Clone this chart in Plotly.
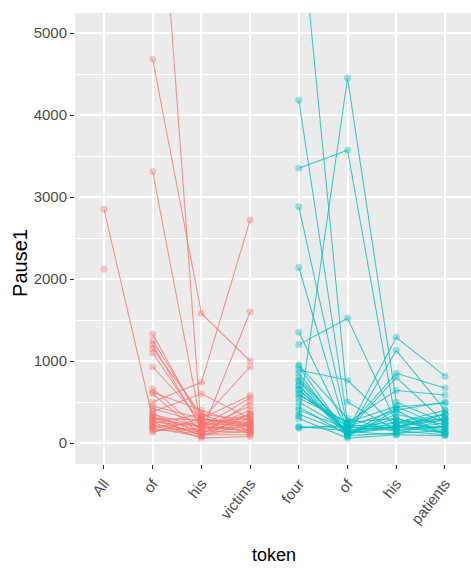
import plotly.graph_objects as go

# Token positions on the x axis (two sentences, 4 tokens each)
tick_labels = ["All", "of", "his", "victims", "four", "of", "his", "patients"]
red_x = [1, 2, 3, 4]
teal_x = [5, 6, 7, 8]

# Sentence 1 (All, of, his, victims) - one row per participant
red_series = [
    [2850, 300, 200, 150],
    [2120, None, None, None],
    [None, 4680, 1580, 1000],
    [None, 8200, 130, 250],
    [None, 3310, 200, 350],
    [None, 500, 740, 2720],
    [None, 350, 120, 1600],
    [None, 1330, 250, 300],
    [None, 1250, 300, 200],
    [None, 1200, 180, 450],
    [None, 1150, 350, 150],
    [None, 1100, 220, 250],
    [None, 930, 280, 930],
    [None, 660, 150, 350],
    [None, 620, 400, 200],
    [None, 600, 100, 500],
    [None, 450, 300, 580],
    [None, 420, 250, 120],
    [None, 380, 600, 300],
    [None, 350, 200, 180],
    [None, 320, 150, 400],
    [None, 300, 280, 250],
    [None, 280, 100, 100],
    [None, 260, 200, 550],
    [None, 240, 350, 280],
    [None, 220, 150, 130],
    [None, 200, 250, 200],
    [None, 180, 80, 350],
    [None, 150, 180, 160],
    [None, 130, 300, 220],
    [None, 250, 60, 80],
    [None, 200, 130, 300],
    [None, 170, 110, 140],
    [None, 310, 90, 230],
]

# Sentence 2 (four, of, his, patients)
teal_series = [
    [6600, 500, 150, 200],
    [4180, 250, 300, 150],
    [3350, 3570, 240, 300],
    [330, 4450, 500, 250],
    [2880, 200, 400, 100],
    [2140, 120, 200, 350],
    [1350, 150, 1290, 815],
    [1200, 1520, 250, 180],
    [935, 100, 1130, 400],
    [890, 765, 200, 300],
    [765, 180, 850, 670],
    [645, 150, 800, 250],
    [585, 250, 640, 585],
    [440, 100, 440, 485],
    [195, 200, 150, 100],
    [180, 220, 180, 200],
    [800, 130, 300, 120],
    [700, 120, 180, 350],
    [850, 90, 120, 150],
    [600, 200, 250, 400],
    [500, 160, 200, 280],
    [750, 110, 350, 220],
    [650, 140, 100, 300],
    [550, 250, 450, 180],
    [400, 180, 220, 130],
    [950, 300, 150, 250],
    [700, 80, 400, 500],
    [200, 150, 200, 120],
    [350, 120, 250, 350],
    [300, 60, 100, 90],
]

RED = "248,118,109"
TEAL = "0,191,196"

fig = go.Figure()

def add_group(xs, series, rgb):
    for vals in series:
        fig.add_trace(go.Scatter(
            x=xs, y=vals, mode="lines+markers",
            line=dict(color=f"rgba({rgb},0.75)", width=1.1),
            marker=dict(color=f"rgba({rgb},0.4)", size=7,
                        line=dict(width=0)),
            connectgaps=False, showlegend=False, hoverinfo="skip",
        ))

add_group(red_x, red_series, RED)
add_group(teal_x, teal_series, TEAL)

FAM = "Liberation Sans, Arial, sans-serif"

fig.update_layout(
    width=471, height=571,
    margin=dict(l=75, r=0, t=13, b=107),
    paper_bgcolor="white",
    plot_bgcolor="#EBEBEB",
    xaxis=dict(
        range=[0.405, 8.534],
        tickmode="array", tickvals=list(range(1, 9)), ticktext=tick_labels,
        tickangle=-52, tickfont=dict(family=FAM, size=15, color="#4D4D4D"),
        showgrid=True, gridcolor="white", gridwidth=1.5,
        zeroline=False, showline=False,
        ticks="outside", ticklen=4, tickwidth=1.2, tickcolor="#333333",
    ),
    yaxis=dict(
        range=[-256, 5244],
        tickmode="array", tickvals=[0, 1000, 2000, 3000, 4000, 5000],
        tickfont=dict(family=FAM, size=15, color="#4D4D4D"),
        showgrid=True, gridcolor="white", gridwidth=1.5,
        minor=dict(tickmode="array", tickvals=[500, 1500, 2500, 3500, 4500],
                   showgrid=True, gridcolor="white", gridwidth=0.7, ticks=""),
        zeroline=False, showline=False,
        ticks="outside", ticklen=4, tickwidth=1.2, tickcolor="#333333",
    ),
    annotations=[
        dict(text="token", xref="paper", yref="paper", x=0.5025, y=-0.202,
             xanchor="center", yanchor="middle", showarrow=False,
             font=dict(family=FAM, size=18, color="black")),
        dict(text="Pause1", xref="paper", yref="paper", x=-0.139, y=0.4457,
             xanchor="center", yanchor="middle", showarrow=False, textangle=-90,
             font=dict(family=FAM, size=20, color="black")),
    ],
)

fig.write_html("out.html")
